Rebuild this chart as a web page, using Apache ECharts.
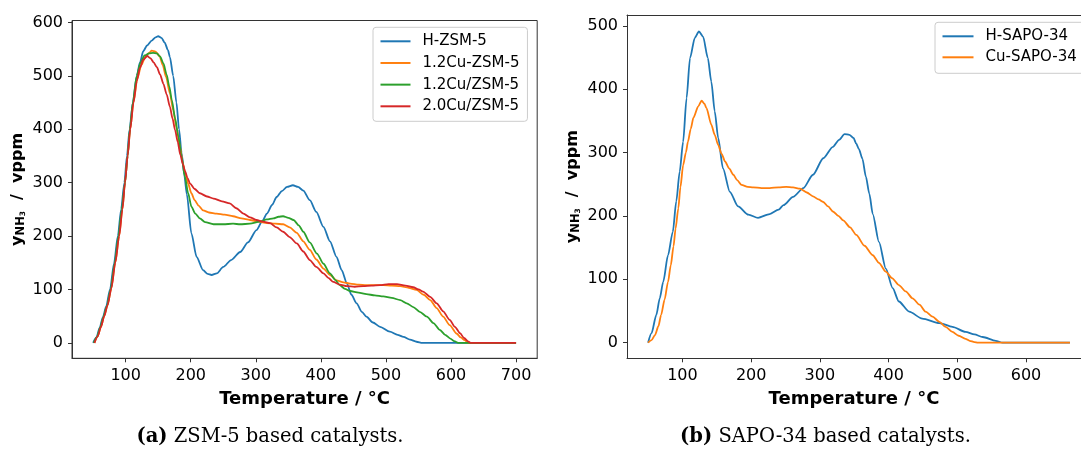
<!DOCTYPE html>
<html><head><meta charset="utf-8">
<script src="https://cdn.jsdelivr.net/npm/echarts/dist/echarts.min.js"></script>
<style>html,body{margin:0;padding:0;background:#fff}#c{width:1081px;height:456px}</style>
</head><body><div id="c"></div>
<script>
// ---------- data (Temperature °C, NH3 ppm) ----------
const zsmNames = ['H-ZSM-5', '1.2Cu-ZSM-5', '1.2Cu/ZSM-5', '2.0Cu/ZSM-5'];
const sapoNames = ['H-SAPO-34', 'Cu-SAPO-34'];

const hZsm5 = [[50,0],[55,10],[60,28],[65,48],[70,68],[76,100],[82,148],[88,200],[93,250],[98,300],[102,350],[106,400],[111,450],[117,500],[122,525],[127,546],[133,557],[140,566],[146,572],[150,574],[155,571],[160,562],[165,548],[168,535],[173,500],[178,450],[182,400],[186,355],[190,315],[194,278],[201,205],[209,161],[219,136],[226,129],[232,127],[240,130],[250,142],[262,155],[276,170],[288,188],[301,211],[310,228],[317,242],[325,258],[332,273],[340,284],[348,292],[357,295],[365,292],[373,285],[383,267],[393,245],[404,217],[414,190],[424,161],[432,136],[440,111],[447,90],[455,74],[463,58],[470,49],[480,38],[491,30],[506,21],[518,15],[527,11],[537,6],[547,2],[556,0],[700,0]];

const cu12Ion = [[52,0],[57,12],[62,30],[67,50],[72,70],[78,102],[84,150],[90,200],[95,250],[99,300],[103,350],[107,400],[112,450],[118,495],[124,520],[130,535],[136,543],[140,547],[146,545],[152,537],[157,520],[162,498],[168,467],[173,436],[178,404],[183,370],[188,336],[192,315],[196,298],[201,280],[206,267],[212,257],[219,248],[228,244],[240,242],[252,240],[265,237],[278,233],[291,230],[304,227],[317,224],[330,223],[342,222],[352,216],[363,206],[373,190],[383,174],[393,156],[404,139],[414,127],[424,117],[435,113],[445,111],[458,109],[470,108],[483,108],[496,108],[509,107],[522,106],[535,103],[547,99],[558,90],[568,80],[578,65],[588,49],[598,33],[609,17],[615,10],[621,5],[626,0],[700,0]];

const cu12Imp = [[51,0],[56,11],[61,29],[66,49],[71,68],[77,100],[83,148],[89,200],[94,250],[99,300],[103,350],[106.5,400],[111,450],[117,500],[123,525],[129,538],[136,542],[142,543],[148,542],[153,536],[158,523],[163,502],[167,480],[171,454],[176,420],[181,386],[186,348],[191,311],[196,280],[201,255],[207,242],[214,233],[222,226],[235,222],[250,222],[265,223],[276,222],[291,223],[306,227],[317,231],[327,233],[335,236],[342,237],[350,234],[358,230],[366,220],[373,208],[383,188],[394,167],[404,148],[414,130],[422,118],[429,108],[437,101],[445,97],[458,94],[470,91],[483,89],[496,87],[509,84],[522,80],[532,74],[542,67],[552,58],[563,49],[573,37],[583,24],[591,15],[599,8],[605,3],[611,0],[700,0]];

const cu20Imp = [[52,0],[57,12],[62,30],[67,50],[72,70],[78,102],[84,150],[90,200],[95,250],[99,300],[103,350],[107,400],[112,450],[117,490],[122,515],[127,530],[133,537],[138,533],[143,525],[148,516],[153,502],[158,485],[163,465],[168,442],[172,420],[176,398],[180,376],[184,352],[188,334],[191,322],[195,309],[199,298],[206,288],[214,280],[225,274],[235,270],[248,265],[260,261],[270,252],[281,242],[291,235],[301,230],[311,227],[322,224],[332,216],[342,208],[352,198],[363,186],[373,171],[383,155],[393,142],[404,130],[412,121],[419,114],[429,109],[440,106],[452,105],[465,106],[478,107],[491,108],[504,110],[517,110],[530,107],[542,104],[550,100],[557,96],[568,86],[578,74],[588,59],[598,43],[606,30],[614,18],[620,9],[627,2],[630,0],[700,0]];

const hSapo34 = [[50,0],[55,15],[62,44],[67,70],[72,96],[79,138],[86,175],[91,223],[96,270],[101,317],[106,386],[111,449],[118,481],[124,491],[130,483],[137,449],[142,412],[147,365],[152,323],[159,275],[169,238],[181,215],[196,202],[210,197],[227,203],[240,210],[247,217],[261,230],[276,244],[290,265],[305,291],[319,309],[328,320],[336,329],[343,328],[349,323],[353,314],[357,305],[362,290],[367,262],[372,235],[377,203],[386,159],[396,117],[406,86],[415,65],[430,49],[449,38],[474,31],[493,25],[512,17],[525,13],[537,9],[556,3],[566,0],[664,0]];

const cuSapo34 = [[50,0],[55,4],[60,12],[65,26],[69,44],[74,68],[79,96],[83,122],[87,152],[90,180],[94,212],[97,245],[101,280],[105,300],[108,317],[112,337],[116,355],[123,373],[128,382],[132,377],[135,370],[142,344],[147,328],[152,312],[157,298],[162,286],[168,275],[174,265],[180,256],[186,249],[195,246],[203,245],[215,244],[227,244],[240,245],[251,246],[261,245],[271,243],[281,237],[290,231],[298,226],[305,222],[312,215],[319,207],[327,200],[334,193],[344,182],[353,170],[365,153],[377,138],[386,126],[396,112],[405,102],[415,91],[425,81],[435,70],[445,60],[454,49],[464,41],[474,33],[483,25],[493,17],[502,11],[512,6],[518,3],[525,1],[530,0],[664,0]];

const zsmXTicks = [100,200,300,400,500,600,700];
const zsmYTicks = [0,100,200,300,400,500,600];
const sapoXTicks = [100,200,300,400,500,600];
const sapoYTicks = [0,100,200,300,400,500];
const xTitle = 'Temperature / °C';
const captionA = ['(a)', 'ZSM-5 based catalysts.'];
const captionB = ['(b)', 'SAPO-34 based catalysts.'];

// ---------- styles ----------
const colors = ['#1f77b4', '#ff7f0e', '#2ca02c', '#d62728'];
const SANS = 'DejaVu Sans';
const SERIF = 'DejaVu Serif';
const AX = '#333';

function xAxis(gi, min, max, ticks) {
  return {
    type: 'value', gridIndex: gi, min: min, max: max,
    name: xTitle, nameLocation: 'middle', nameGap: 28,
    nameTextStyle: { fontFamily: SANS, fontWeight: 'bold', fontSize: 18, color: '#000', lineHeight: 20 },
    axisLine: { show: true, onZero: false, lineStyle: { color: AX, width: 1 } },
    axisTick: { show: true, length: 4, customValues: ticks, lineStyle: { color: AX, width: 1 } },
    axisLabel: { customValues: ticks, margin: 10, fontFamily: SANS, fontSize: 16, color: '#000' },
    splitLine: { show: false }
  };
}
function topSpine(gi, min, max) {
  return {
    type: 'value', gridIndex: gi, min: min, max: max, position: 'top',
    axisLine: { show: true, onZero: false, lineStyle: { color: AX, width: 1 } },
    axisTick: { show: false }, axisLabel: { show: false }, splitLine: { show: false }
  };
}
function yAxis(gi, min, max, ticks) {
  return {
    type: 'value', gridIndex: gi, min: min, max: max,
    name: '{a|y}{b|NH}{c|3}{a|  /  vppm}', nameLocation: 'middle', nameGap: 45, nameRotate: 90,
    nameTextStyle: {
      rich: {
        a: { fontFamily: SANS, fontWeight: 'bold', fontSize: 16, color: '#000', lineHeight: 19, verticalAlign: 'middle' },
        b: { fontFamily: SANS, fontWeight: 'bold', fontSize: 11.5, color: '#000', lineHeight: 11.5, verticalAlign: 'bottom' },
        c: { fontFamily: SANS, fontWeight: 'bold', fontSize: 7.5, color: '#000', lineHeight: 7.5, verticalAlign: 'bottom' }
      }
    },
    axisLine: { show: true, onZero: false, lineStyle: { color: AX, width: 1 } },
    axisTick: { show: true, length: 4, customValues: ticks, lineStyle: { color: AX, width: 1 } },
    axisLabel: { customValues: ticks, margin: 9, fontFamily: SANS, fontSize: 16, color: '#000' },
    splitLine: { show: false }
  };
}
function line(name, data, gi, color) {
  return {
    type: 'line', name: name, data: data, xAxisIndex: gi, yAxisIndex: gi,
    symbol: 'none', showSymbol: false, smooth: 0.25, smoothMonotone: 'x',
    lineStyle: { color: color, width: 1.8 }, itemStyle: { color: color },
    emphasis: { disabled: true }, animation: false
  };
}
function legend(names, left, top, gap, w, boxed) {
  return {
    data: names, orient: 'vertical', left: left, top: top, z: 6,
    padding: boxed ? [5, 8, 6, 7.5] : [5, 0, 6, 7.5], itemWidth: w, itemHeight: 2, itemGap: gap, icon: 'rect',
    backgroundColor: boxed ? 'rgba(255,255,255,0.8)' : 'transparent',
    borderColor: '#cccccc', borderWidth: boxed ? 1 : 0, borderRadius: 3,
    textStyle: { fontFamily: SANS, fontSize: 15, color: '#000', lineHeight: 18, padding: [0, 0, 0, 7] },
    selectedMode: false
  };
}
function caption(parts, x, y) {
  return {
    type: 'text', x: x, y: y,
    style: {
      text: '{b|' + parts[0] + '} ' + parts[1],
      fill: '#000', fontFamily: SERIF, fontSize: 19.5,
      align: 'center', verticalAlign: 'middle', textAlign: 'center', textVerticalAlign: 'middle',
      rich: { b: { fontFamily: SERIF, fontWeight: 'bold', fontSize: 19.5, fill: '#000' } }
    }
  };
}

const chart = echarts.init(document.getElementById('c'), null, { renderer: 'canvas' });
chart.setOption({
  backgroundColor: '#fff',
  animation: false,
  grid: [
    { left: 72, top: 20.5, width: 465.2, height: 337.8, show: true, borderColor: AX, borderWidth: 1, backgroundColor: 'transparent', containLabel: false },
    { left: 627, top: 15, width: 454, height: 343.3, show: false, containLabel: false }
  ],
  xAxis: [xAxis(0, 17.5, 732.5, zsmXTicks), xAxis(1, 19.3, 680.1, sapoXTicks), topSpine(1, 19.3, 680.1)],
  yAxis: [yAxis(0, -29, 603.5, zsmYTicks), yAxis(1, -24.6, 517, sapoYTicks)],
  legend: [legend(zsmNames, 373, 27.3, 3.67, 30, true), legend(sapoNames, 935, 22.3, 3, 31, false)],
  series: [
    line(zsmNames[0], hZsm5, 0, colors[0]),
    line(zsmNames[1], cu12Ion, 0, colors[1]),
    line(zsmNames[2], cu12Imp, 0, colors[2]),
    line(zsmNames[3], cu20Imp, 0, colors[3]),
    line(sapoNames[0], hSapo34, 1, colors[0]),
    line(sapoNames[1], cuSapo34, 1, colors[1])
  ],
  graphic: [
    caption(captionA, 270, 437), caption(captionB, 825.5, 437),
    { type: 'rect', z: 5, shape: { x: 935, y: 22.3, width: 160, height: 51, r: 3 },
      style: { fill: 'rgba(255,255,255,0.8)', stroke: '#cccccc', lineWidth: 1 } }
  ]
});
</script></body></html>
